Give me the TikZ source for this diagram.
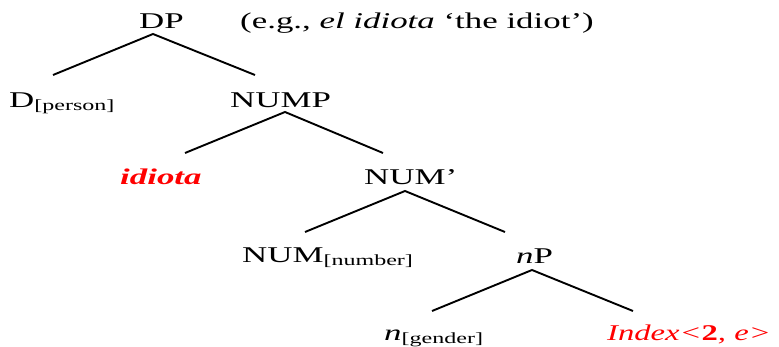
\documentclass[tikz,border=0pt]{standalone}
\usepackage{fontspec}
\setmainfont{Liberation Serif}
\newcommand{\wx}[1]{\scalebox{1.55}[1]{#1}}
\newcommand{\sbt}[1]{\raisebox{-3pt}{\fontsize{15.5}{17}\selectfont #1}}
\tikzset{
  lbl/.style={inner sep=0pt, anchor=base west, font=\fontsize{22.5}{26}\selectfont},
  branch/.style={line width=1.9pt},
  hl/.style={text=red}
}
\begin{document}
\begin{tikzpicture}[x=1pt,y=-1pt]
\useasboundingbox (0,0) rectangle (779,347);
% labels
\node[lbl] (dp) at (139,29) {\wx{DP}};
\node[lbl] (eg) at (240,29) {\wx{(e.g., \textit{el idiota} ‘the idiot’)}};
\node[lbl] (d) at (9,108) {\wx{D\sbt{[person]}}};
\node[lbl] (nump) at (230,108) {\wx{NUMP}};
\node[lbl,hl] (idiota) at (120,185) {\wx{\textbf{\textit{idiota}}}};
\node[lbl] (numbar) at (364,185) {\wx{NUM’}};
\node[lbl] (num) at (242,263) {\wx{NUM\sbt{[number]}}};
\node[lbl] (np) at (516,264) {\wx{\textit{n}P}};
\node[lbl] (n) at (384,340) {\wx{\textit{n}\sbt{[gender]}}};
\node[lbl,hl] (idx) at (607,341) {\scalebox{1.45}[1]{\textit{Index<}\textbf{2}\textit{, e>}}};
% branch points
\coordinate (dpA) at (153,34);  \coordinate (dpL) at (53,75);   \coordinate (dpR) at (255,75);
\coordinate (numpA) at (285,112); \coordinate (numpL) at (185,153); \coordinate (numpR) at (383,153);
\coordinate (nbA) at (405,191); \coordinate (nbL) at (305,232); \coordinate (nbR) at (505,232);
\coordinate (npA) at (532,270); \coordinate (npL) at (432,311); \coordinate (npR) at (633,311);
\draw[branch] (dpL) -- (dpA) -- (dpR);
\draw[branch] (numpL) -- (numpA) -- (numpR);
\draw[branch] (nbL) -- (nbA) -- (nbR);
\draw[branch] (npL) -- (npA) -- (npR);
\end{tikzpicture}
\end{document}
